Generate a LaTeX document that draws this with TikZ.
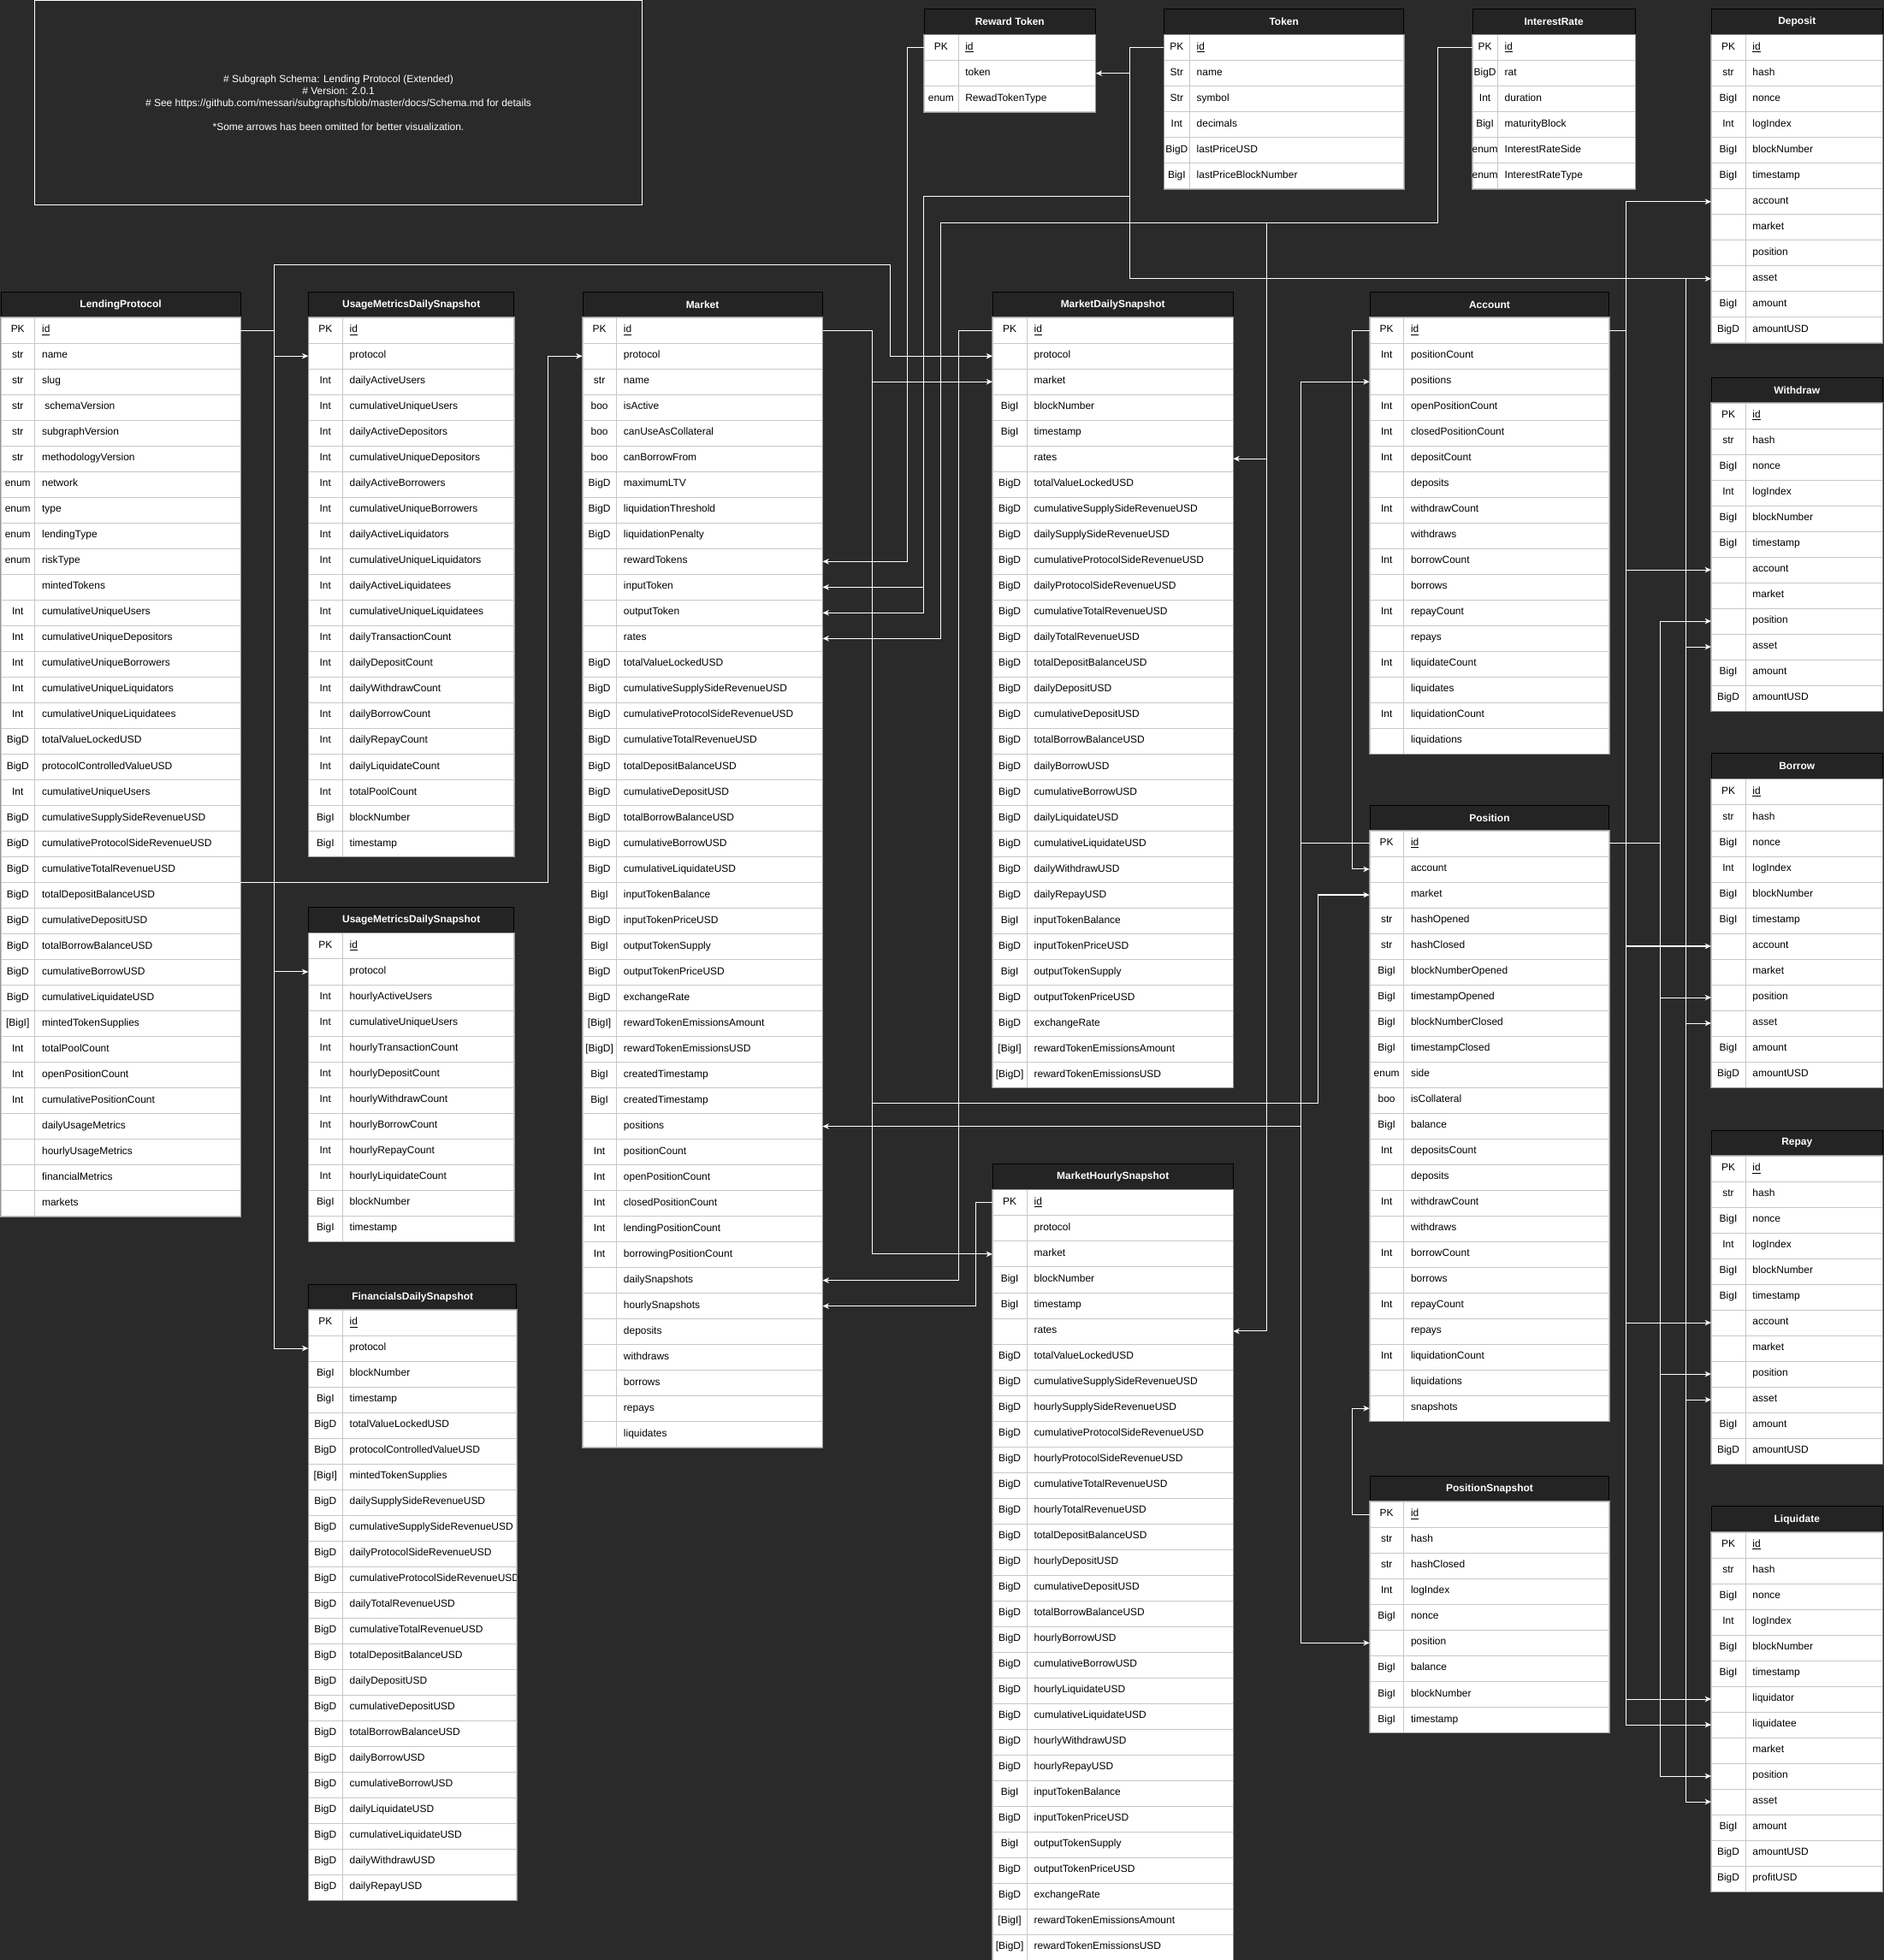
\documentclass[tikz,border=0pt]{standalone}
\usepackage{fontspec}
\setmainfont{Liberation Sans}
\usetikzlibrary{arrows.meta}
\definecolor{canvas}{RGB}{42,42,42}
\definecolor{headfill}{RGB}{36,36,36}
\definecolor{rowline}{RGB}{200,200,200}
\definecolor{frameline}{RGB}{150,150,150}
\definecolor{inktext}{RGB}{0,0,0}
\newcommand\tblfont{\fontsize{8.2}{9.5}\selectfont}
\newcommand\rowh{20.54}
\newcommand\pk{PK}
\newcommand\pkid{\underline{id}}
\tikzset{
  tblhead/.style={draw=black, fill=headfill, text=white, font=\tblfont\bfseries, minimum height=20.54pt, inner sep=0pt, line width=0.6pt, anchor=north west},
  tblrow/.style={draw=rowline, fill=white, minimum height=20.54pt, inner sep=0pt, line width=0.6pt, anchor=north west},
  tblsep/.style={draw=rowline, line width=0.6pt},
  tblkey/.style={text=inktext, font=\tblfont, inner sep=0pt, text height=6pt, text depth=1.8pt},
  tblfield/.style={text=inktext, font=\tblfont, inner sep=0pt, text height=6pt, text depth=1.8pt, anchor=west},
  tblframe/.style={draw=frameline, line width=0.7pt},
  fk/.style={draw=white, line width=0.7pt, -{Stealth[length=5pt,width=4.5pt,inset=1.5pt]}},
  notebox/.style={draw=white, text=white, font=\tblfont, align=center, minimum width=485.6pt, minimum height=163.7pt, line width=0.7pt}
}
\newcommand\ertable[7]{%
  \draw (#3,-#4) node(#1) [tblhead, minimum width=#5pt] {#2};
  \foreach \ftype/\fname [count=\i] in {#7} {
    \draw (#3,{-#4-\i*\rowh}) node(#1-\i) [tblrow, minimum width=#5pt] {};
    \path[tblsep] ({#3+#6},{-#4-\i*\rowh}) -- ++(0,-\rowh);
    \draw ({#3+#6/2},{-#4-(\i+0.5)*\rowh}) node(#1-\i-k) [tblkey] {\ftype};
    \draw ({#3+#6+5.5},{-#4-(\i+0.5)*\rowh}) node(#1-\i-f) [tblfield] {\fname};
    \xdef\lastrow{\i}
  }
  \path[tblframe] (#1-1.north west) rectangle (#1-\lastrow.south east);
}
\begin{document}
\begin{tikzpicture}[x=1pt,y=1pt]
\useasboundingbox (0,0) rectangle (1507,-1568);
\fill[canvas] (0,0) rectangle (1507,-1568);
\draw (270.7,-82.35) node(note) [notebox] {\# Subgraph Schema: Lending Protocol (Extended)\\ \# Version: 2.0.1\\ \# See https://github.com/messari/subgraphs/blob/master/docs/Schema.md for details\\[10pt] *Some arrows has been omitted for better visualization.};

\ertable{rt}{Reward Token}{739}{7}{137}{27.5}{\pk/\pkid, {}/token, enum/RewadTokenType}
\ertable{tok}{Token}{931}{7}{191.6}{20.6}{\pk/\pkid, Str/name, Str/symbol, Int/decimals, BigD/lastPriceUSD, BigI/lastPriceBlockNumber}
\ertable{ir}{InterestRate}{1177.7}{7}{130}{20.3}{\pk/\pkid, BigD/rat, Int/duration, BigI/maturityBlock, enum/InterestRateSide, enum/InterestRateType}

\ertable{dep}{Deposit}{1368.8}{7}{136.7}{27.5}{\pk/\pkid, str/hash, BigI/nonce, Int/logIndex, BigI/blockNumber, BigI/timestamp, {}/account, {}/market, {}/position, {}/asset, BigI/amount, BigD/amountUSD}
\ertable{wd}{Withdraw}{1368.8}{301.5}{136.7}{27.5}{\pk/\pkid, str/hash, BigI/nonce, Int/logIndex, BigI/blockNumber, BigI/timestamp, {}/account, {}/market, {}/position, {}/asset, BigI/amount, BigD/amountUSD}
\ertable{bor}{Borrow}{1368.8}{602.6}{136.7}{27.5}{\pk/\pkid, str/hash, BigI/nonce, Int/logIndex, BigI/blockNumber, BigI/timestamp, {}/account, {}/market, {}/position, {}/asset, BigI/amount, BigD/amountUSD}
\ertable{rep}{Repay}{1368.8}{903.8}{136.7}{27.5}{\pk/\pkid, str/hash, BigI/nonce, Int/logIndex, BigI/blockNumber, BigI/timestamp, {}/account, {}/market, {}/position, {}/asset, BigI/amount, BigD/amountUSD}
\ertable{liq}{Liquidate}{1368.8}{1204.9}{136.7}{27.5}{\pk/\pkid, str/hash, BigI/nonce, Int/logIndex, BigI/blockNumber, BigI/timestamp, {}/liquidator, {}/liquidatee, {}/market, {}/position, {}/asset, BigI/amount, BigD/amountUSD, BigD/profitUSD}

\ertable{lp}{LendingProtocol}{0.5}{233.2}{191.5}{27.4}{\pk/\pkid, str/name, str/slug, str/{\ schemaVersion}, str/subgraphVersion, str/methodologyVersion, enum/network, enum/type, enum/lendingType, enum/riskType, {}/mintedTokens, Int/cumulativeUniqueUsers, Int/cumulativeUniqueDepositors, Int/cumulativeUniqueBorrowers, Int/cumulativeUniqueLiquidators, Int/cumulativeUniqueLiquidatees, BigD/totalValueLockedUSD, BigD/protocolControlledValueUSD, Int/cumulativeUniqueUsers, BigD/cumulativeSupplySideRevenueUSD, BigD/cumulativeProtocolSideRevenueUSD, BigD/cumulativeTotalRevenueUSD, BigD/totalDepositBalanceUSD, BigD/cumulativeDepositUSD, BigD/totalBorrowBalanceUSD, BigD/cumulativeBorrowUSD, BigD/cumulativeLiquidateUSD, {[BigI]}/mintedTokenSupplies, Int/totalPoolCount, Int/openPositionCount, Int/cumulativePositionCount, {}/dailyUsageMetrics, {}/hourlyUsageMetrics, {}/financialMetrics, {}/markets}

\ertable{umd}{UsageMetricsDailySnapshot}{246.6}{233.2}{164.2}{27.4}{\pk/\pkid, {}/protocol, Int/dailyActiveUsers, Int/cumulativeUniqueUsers, Int/dailyActiveDepositors, Int/cumulativeUniqueDepositors, Int/dailyActiveBorrowers, Int/cumulativeUniqueBorrowers, Int/dailyActiveLiquidators, Int/cumulativeUniqueLiquidators, Int/dailyActiveLiquidatees, Int/cumulativeUniqueLiquidatees, Int/dailyTransactionCount, Int/dailyDepositCount, Int/dailyWithdrawCount, Int/dailyBorrowCount, Int/dailyRepayCount, Int/dailyLiquidateCount, Int/totalPoolCount, BigI/blockNumber, BigI/timestamp}
\ertable{umh}{UsageMetricsDailySnapshot}{246.6}{725.8}{164.2}{27.4}{\pk/\pkid, {}/protocol, Int/hourlyActiveUsers, Int/cumulativeUniqueUsers, Int/hourlyTransactionCount, Int/hourlyDepositCount, Int/hourlyWithdrawCount, Int/hourlyBorrowCount, Int/hourlyRepayCount, Int/hourlyLiquidateCount, BigI/blockNumber, BigI/timestamp}
\ertable{fds}{FinancialsDailySnapshot}{246.6}{1027}{166.3}{27.4}{\pk/\pkid, {}/protocol, BigI/blockNumber, BigI/timestamp, BigD/totalValueLockedUSD, BigD/protocolControlledValueUSD, {[BigI]}/mintedTokenSupplies, BigD/dailySupplySideRevenueUSD, BigD/cumulativeSupplySideRevenueUSD, BigD/dailyProtocolSideRevenueUSD, BigD/cumulativeProtocolSideRevenueUSD, BigD/dailyTotalRevenueUSD, BigD/cumulativeTotalRevenueUSD, BigD/totalDepositBalanceUSD, BigD/dailyDepositUSD, BigD/cumulativeDepositUSD, BigD/totalBorrowBalanceUSD, BigD/dailyBorrowUSD, BigD/cumulativeBorrowUSD, BigD/dailyLiquidateUSD, BigD/cumulativeLiquidateUSD, BigD/dailyWithdrawUSD, BigD/dailyRepayUSD}

\ertable{mkt}{Market}{465.8}{233.2}{191.7}{27.4}{\pk/\pkid, {}/protocol, str/name, boo/isActive, boo/canUseAsCollateral, boo/canBorrowFrom, BigD/maximumLTV, BigD/liquidationThreshold, BigD/liquidationPenalty, {}/rewardTokens, {}/inputToken, {}/outputToken, {}/rates, BigD/totalValueLockedUSD, BigD/cumulativeSupplySideRevenueUSD, BigD/cumulativeProtocolSideRevenueUSD, BigD/cumulativeTotalRevenueUSD, BigD/totalDepositBalanceUSD, BigD/cumulativeDepositUSD, BigD/totalBorrowBalanceUSD, BigD/cumulativeBorrowUSD, BigD/cumulativeLiquidateUSD, BigI/inputTokenBalance, BigD/inputTokenPriceUSD, BigI/outputTokenSupply, BigD/outputTokenPriceUSD, BigD/exchangeRate, {[BigI]}/rewardTokenEmissionsAmount, {[BigD]}/rewardTokenEmissionsUSD, BigI/createdTimestamp, BigI/createdTimestamp, {}/positions, Int/positionCount, Int/openPositionCount, Int/closedPositionCount, Int/lendingPositionCount, Int/borrowingPositionCount, {}/dailySnapshots, {}/hourlySnapshots, {}/deposits, {}/withdraws, {}/borrows, {}/repays, {}/liquidates}

\ertable{mds}{MarketDailySnapshot}{793.9}{233.2}{192}{27.6}{\pk/\pkid, {}/protocol, {}/market, BigI/blockNumber, BigI/timestamp, {}/rates, BigD/totalValueLockedUSD, BigD/cumulativeSupplySideRevenueUSD, BigD/dailySupplySideRevenueUSD, BigD/cumulativeProtocolSideRevenueUSD, BigD/dailyProtocolSideRevenueUSD, BigD/cumulativeTotalRevenueUSD, BigD/dailyTotalRevenueUSD, BigD/totalDepositBalanceUSD, BigD/dailyDepositUSD, BigD/cumulativeDepositUSD, BigD/totalBorrowBalanceUSD, BigD/dailyBorrowUSD, BigD/cumulativeBorrowUSD, BigD/dailyLiquidateUSD, BigD/cumulativeLiquidateUSD, BigD/dailyWithdrawUSD, BigD/dailyRepayUSD, BigI/inputTokenBalance, BigD/inputTokenPriceUSD, BigI/outputTokenSupply, BigD/outputTokenPriceUSD, BigD/exchangeRate, {[BigI]}/rewardTokenEmissionsAmount, {[BigD]}/rewardTokenEmissionsUSD}
\ertable{mhs}{MarketHourlySnapshot}{793.9}{931.1}{192}{27.6}{\pk/\pkid, {}/protocol, {}/market, BigI/blockNumber, BigI/timestamp, {}/rates, BigD/totalValueLockedUSD, BigD/cumulativeSupplySideRevenueUSD, BigD/hourlySupplySideRevenueUSD, BigD/cumulativeProtocolSideRevenueUSD, BigD/hourlyProtocolSideRevenueUSD, BigD/cumulativeTotalRevenueUSD, BigD/hourlyTotalRevenueUSD, BigD/totalDepositBalanceUSD, BigD/hourlyDepositUSD, BigD/cumulativeDepositUSD, BigD/totalBorrowBalanceUSD, BigD/hourlyBorrowUSD, BigD/cumulativeBorrowUSD, BigD/hourlyLiquidateUSD, BigD/cumulativeLiquidateUSD, BigD/hourlyWithdrawUSD, BigD/hourlyRepayUSD, BigI/inputTokenBalance, BigD/inputTokenPriceUSD, BigI/outputTokenSupply, BigD/outputTokenPriceUSD, BigD/exchangeRate, {[BigI]}/rewardTokenEmissionsAmount, {[BigD]}/rewardTokenEmissionsUSD}

\ertable{acc}{Account}{1095.5}{233.2}{191.5}{27.4}{\pk/\pkid, Int/positionCount, {}/positions, Int/openPositionCount, Int/closedPositionCount, Int/depositCount, {}/deposits, Int/withdrawCount, {}/withdraws, Int/borrowCount, {}/borrows, Int/repayCount, {}/repays, Int/liquidateCount, {}/liquidates, Int/liquidationCount, {}/liquidations}
\ertable{pos}{Position}{1095.5}{643.7}{191.5}{27.4}{\pk/\pkid, {}/account, {}/market, str/hashOpened, str/hashClosed, BigI/blockNumberOpened, BigI/timestampOpened, BigI/blockNumberClosed, BigI/timestampClosed, enum/side, boo/isCollateral, BigI/balance, Int/depositsCount, {}/deposits, Int/withdrawCount, {}/withdraws, Int/borrowCount, {}/borrows, Int/repayCount, {}/repays, Int/liquidationCount, {}/liquidations, {}/snapshots}
\ertable{ps}{PositionSnapshot}{1095.5}{1180.5}{191.5}{27.4}{\pk/\pkid, str/hash, str/hashClosed, Int/logIndex, BigI/nonce, {}/position, BigI/balance, BigI/blockNumber, BigI/timestamp}

\coordinate (lpbus) at (219.2,-212);
\coordinate (lptop) at (712,-212);
\coordinate (lpmkt) at (438.5,0);
\coordinate (mktbus) at (698,0);
\coordinate (mktpos) at (1054.2,-882.7);
\coordinate (rtbus) at (725.5,0);
\coordinate (tokbus) at (903.7,0);
\coordinate (tokmkt) at (739,-157.4);
\coordinate (assetbus) at (1348.6,0);
\coordinate (irbus) at (1150,0);
\coordinate (irmkt) at (752.8,-178);
\coordinate (irsnap) at (1013,-178);
\coordinate (mdsbus) at (766.6,0);
\coordinate (mhsbus) at (780.4,0);
\coordinate (accbus) at (1081.5,0);
\coordinate (accev) at (1300.6,0);
\coordinate (posbus) at (1040.7,0);
\coordinate (posev) at (1328,0);

\path[fk] (lp-1.east) -- (lp-1.east -| lpbus) |- (umd-2.west);
\path[fk] (lp-1.east -| lpbus) |- (umh-2.west);
\path[fk] (lp-1.east -| lpbus) |- (fds-2.west);
\path[fk] (lp-1.east -| lpbus) -- (lpbus) -- (lptop) |- (mds-2.west);
\path[fk] (lp-22.south east) -- (lp-22.south east -| lpmkt) |- (mkt-2.west);

\path[fk] (mkt-1.east) -- (mkt-1.east -| mktbus) |- (mds-3.west);
\path[fk] (mkt-1.east -| mktbus) |- (mhs-3.west);
\path[fk] (mkt-1.east -| mktbus) |- (mktpos) |- (pos-3.west);

\path[fk] (rt-1.west) -- (rt-1.west -| rtbus) |- (mkt-10.east);
\path[fk] (tok-1.west) -- (tok-1.west -| tokbus) |- (rt-2.east);
\path[fk] (tok-1.west -| tokbus) |- (tokmkt) |- (mkt-11.east);
\path[fk] (tokmkt) |- (mkt-12.east);
\path[fk] (tok-1.west -| tokbus) |- (dep-10.west);
\path[fk] (dep-10.west -| assetbus) |- (wd-10.west);
\path[fk] (dep-10.west -| assetbus) |- (bor-10.west);
\path[fk] (dep-10.west -| assetbus) |- (rep-10.west);
\path[fk] (dep-10.west -| assetbus) |- (liq-11.west);

\path[fk] (ir-1.west) -- (ir-1.west -| irbus) |- (irmkt) |- (mkt-13.east);
\path[fk] (irsnap) |- (mds-6.east);
\path[fk] (irsnap) |- (mhs-6.east);

\path[fk] (mds-1.west) -- (mds-1.west -| mdsbus) |- (mkt-38.east);
\path[fk] (mhs-1.west) -- (mhs-1.west -| mhsbus) |- (mkt-39.east);

\path[fk] (acc-1.west) -- (acc-1.west -| accbus) |- (pos-2.west);
\path[fk] (acc-1.east) -- (acc-1.east -| accev) |- (dep-7.west);
\path[fk] (acc-1.east -| accev) |- (wd-7.west);
\path[fk] (acc-1.east -| accev) |- (bor-7.west);
\path[fk] (acc-1.east -| accev) |- (rep-7.west);
\path[fk] (acc-1.east -| accev) |- (liq-7.west);
\path[fk] (acc-1.east -| accev) |- (liq-8.west);

\path[fk] (pos-1.west) -- (pos-1.west -| posbus) |- (acc-3.west);
\path[fk] (pos-1.west -| posbus) |- (mkt-32.east);
\path[fk] (pos-1.west -| posbus) |- (ps-6.west);
\path[fk] (pos-1.east) -- (pos-1.east -| posev) |- (wd-9.west);
\path[fk] (pos-1.east -| posev) |- (bor-9.west);
\path[fk] (pos-1.east -| posev) |- (rep-9.west);
\path[fk] (pos-1.east -| posev) |- (liq-10.west);
\path[fk] (ps-1.west) -- (ps-1.west -| accbus) |- (pos-23.west);
\end{tikzpicture}
\end{document}
